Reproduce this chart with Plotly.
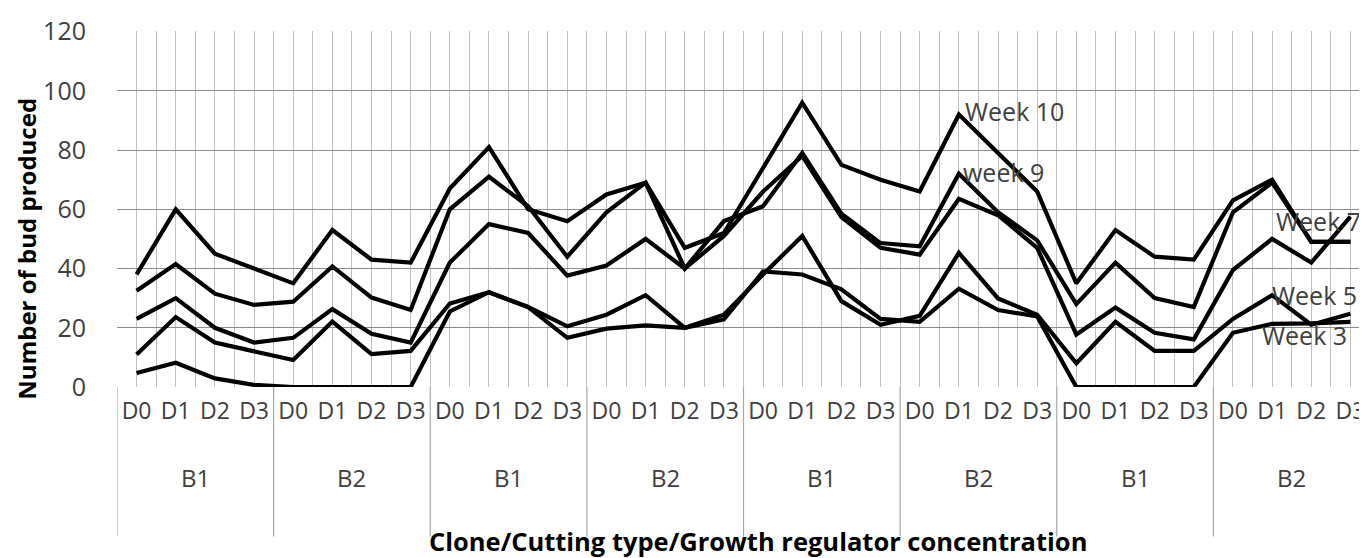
import plotly.graph_objects as go

groups = ["B1", "B2", "B1", "B2", "B1", "B2", "B1", "B2"]
doses = ["D0", "D1", "D2", "D3"]
categories = [f"{g}-{d}-{k}" for k, g in enumerate(groups) for d in doses]

week10 = [38, 60, 45, 40, 35, 53, 43, 42,
          67, 81, 60, 56, 65, 69, 47, 52,
          74, 96, 75, 70, 66, 92, 79, 66,
          35, 53, 44, 43, 63, 70, 49, 49]
week9 = [32.5, 41.5, 31.5, 27.7, 28.8, 40.7, 30.2, 26,
         60, 71, 61, 44, 59, 69, 40, 56,
         61, 79, 58.5, 48.6, 47.5, 72, 59, 49.5,
         28, 42, 30, 27, 59, 69, 49, 49]
week7 = [23, 30, 20, 15, 16.6, 26.3, 18, 15,
         42, 55, 52, 37.6, 41, 50, 40, 51,
         66, 78, 57.4, 47, 44.7, 63.5, 58, 47,
         17.7, 26.8, 18.3, 16.1, 39.5, 50, 42, 57.5]
week5 = [11, 23.6, 15, 12.2, 9.1, 22.1, 11.1, 12.2,
         28.2, 32, 27, 20.5, 24.4, 31, 20, 24.4,
         38, 51, 29, 21, 24, 45.3, 29.9, 24.4,
         8, 22, 12.2, 12.2, 23, 31, 21, 24.7]
week3 = [4.7, 8.2, 2.9, 0.7, 0, 0, 0, 0,
         25.5, 32, 27, 16.6, 19.7, 20.8, 20, 22.8,
         39, 38, 33, 23, 22, 33.2, 26, 23.8,
         0, 0, 0, 0, 18.3, 21.3, 21.5, 22]

series = [("Week 10", week10), ("week 9", week9), ("Week 7", week7),
          ("Week 5", week5), ("Week 3", week3)]

# label positions (data coords) for the series names
label_x = [21.1, 21.05, 29.05, 28.95, 28.7]
label_y = [93.2, 72.7, 56.0, 31.2, 17.6]

y_ticks = [0, 20, 40, 60, 80, 100, 120]

x_idx = list(range(len(categories)))
dose_labels = [c.split("-")[1] for c in categories]

FONT = "Open Sans, sans-serif"
TXT = "#404040"

fig = go.Figure()
for name, vals in series:
    fig.add_trace(go.Scatter(x=x_idx, y=vals, mode="lines", name=name,
                             line=dict(color="black", width=4.2),
                             showlegend=False, hoverinfo="skip"))

for (name, _), lx, ly in zip(series, label_x, label_y):
    fig.add_annotation(x=lx, y=ly, text=name, showarrow=False, xanchor="left",
                       yanchor="middle", font=dict(family=FONT, size=25, color=TXT))

# group labels and dividers below the plot
n_per = len(doses)
for k, g in enumerate(groups):
    fig.add_annotation(x=k * n_per + (n_per - 1) / 2, y=-0.255, yref="paper",
                       yanchor="middle", text=g, showarrow=False,
                       font=dict(family=FONT, size=24, color=TXT))
for k in range(len(groups) + 1):
    fig.add_shape(type="line", xref="x", yref="paper",
                  x0=k * n_per - 0.5, x1=k * n_per - 0.5, y0=0, y1=-0.42,
                  line=dict(color="#a8a8a8", width=1.2))

fig.add_annotation(x=0.5116, y=-0.432, xref="paper", yref="paper",
                   text="<b>Clone/Cutting type/Growth regulator concentration</b>",
                   showarrow=False, yanchor="middle",
                   font=dict(family=FONT, size=25.5, color="black"))
fig.add_annotation(x=-0.072, y=0.388, xref="paper", yref="paper",
                   text="<b>Number of bud produced</b>", textangle=-90,
                   showarrow=False, xanchor="center", yanchor="middle",
                   font=dict(family=FONT, size=24, color="black"))

fig.update_layout(
    width=1367, height=558,
    margin=dict(l=109, r=5, t=16, b=179),
    paper_bgcolor="white", plot_bgcolor="white",
    xaxis=dict(range=[-0.5, 31.5], tickmode="array", tickvals=x_idx,
               ticktext=dose_labels, showgrid=True, gridcolor="#c0c0c0",
               gridwidth=1, zeroline=False, showline=False, ticks="",
               ticklabelstandoff=8,
               tickfont=dict(family=FONT, size=23, color=TXT)),
    yaxis=dict(range=[0, 120.2], tickvals=y_ticks, showgrid=True,
               gridcolor="#8c8c8c", gridwidth=1, zeroline=False,
               showline=False, ticks="", ticklabelstandoff=30,
               ticklabeloverflow="allow",
               tickfont=dict(family=FONT, size=25, color=TXT)),
)
fig.update_xaxes(minor=dict(tickvals=[i + 0.5 for i in x_idx[:-1]], showgrid=True,
                            gridcolor="#c0c0c0", gridwidth=1))

fig.write_html("out.html")
